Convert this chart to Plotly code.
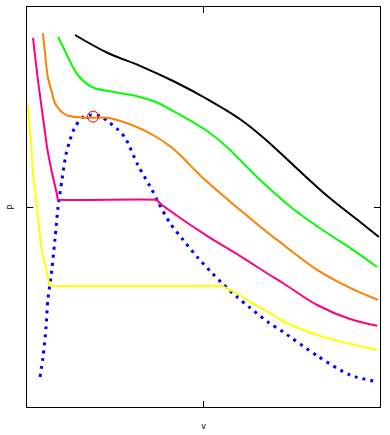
import plotly.graph_objects as go

# Isotherms (axis units 0..10 on both axes)
black_v = [1.36, 2.29, 3.20, 4.14, 5.10, 6.03, 6.74, 7.54, 8.50, 9.43, 9.97]
black_p = [9.30, 8.85, 8.53, 8.15, 7.70, 7.20, 6.70, 6.05, 5.28, 4.63, 4.25]

green_v = [0.88, 1.02, 1.16, 1.44, 1.84, 2.41, 3.06, 3.63, 4.14, 5.10, 5.66, 6.60, 7.54, 8.50, 9.15, 9.92]
green_p = [9.25, 9.00, 8.75, 8.30, 8.00, 7.88, 7.78, 7.63, 7.40, 6.90, 6.50, 5.68, 4.95, 4.35, 3.98, 3.50]

orange_v = [0.45, 0.51, 0.59, 0.71, 0.79, 0.88, 1.02, 1.16, 1.73, 2.29, 2.97, 3.57, 4.11, 5.04, 6.03, 6.83, 7.08, 8.22, 9.15, 9.94]
orange_p = [9.35, 8.85, 8.25, 7.85, 7.60, 7.48, 7.35, 7.28, 7.23, 7.23, 7.05, 6.80, 6.48, 5.68, 4.93, 4.35, 4.18, 3.43, 2.98, 2.68]

magenta_v = [0.17, 0.31, 0.45, 0.54, 0.57, 0.71, 0.84, 0.88, 0.93, 3.62, 3.68, 3.76, 4.14, 5.10, 6.03, 6.88, 7.25, 8.22, 9.15, 9.92]
magenta_p = [9.23, 8.18, 7.25, 6.68, 6.48, 5.85, 5.35, 5.19, 5.18, 5.18, 5.17, 5.10, 4.85, 4.28, 3.78, 3.30, 3.10, 2.55, 2.20, 2.03]

yellow_v = [0.00, 0.03, 0.08, 0.11, 0.17, 0.28, 0.42, 0.57, 0.62, 0.65, 0.70, 5.46, 5.52, 5.60, 6.03, 6.32, 6.83, 7.25, 8.22, 9.15, 9.92]
yellow_p = [7.55, 7.48, 6.98, 6.68, 5.85, 5.00, 3.93, 3.35, 3.12, 3.04, 3.03, 3.03, 3.03, 2.99, 2.80, 2.63, 2.38, 2.15, 1.80, 1.58, 1.43]

dome_v = [0.37, 0.45, 0.54, 0.59, 0.68, 0.79, 0.88, 0.99, 1.10, 1.22, 1.36, 1.59, 1.81, 2.07, 2.35,
          2.58, 2.78, 3.14, 3.54, 3.71, 4.05, 4.42, 4.84, 5.24, 5.52, 5.95, 6.32, 6.83, 7.25, 8.22, 9.15, 9.94]
dome_p = [0.75, 1.23, 2.00, 2.68, 3.25, 4.18, 5.00, 5.68, 6.30, 6.68, 7.00, 7.25, 7.30, 7.28, 7.10,
          6.93, 6.73, 6.05, 5.43, 5.13, 4.60, 4.18, 3.73, 3.35, 3.10, 2.75, 2.48, 2.12, 1.88, 1.28, 0.80, 0.63]

crit_v = [1.87]
crit_p = [7.26]

tick_v = [5]
tick_p = [5]

fig = go.Figure()
fig.add_trace(go.Scatter(x=dome_v, y=dome_p, mode="lines",
                         line=dict(color="#0000ff", width=3, dash="3px,5px", shape="spline", smoothing=0.8)))
for xs, ys, col in [(yellow_v, yellow_p, "#ffff00"),
                    (magenta_v, magenta_p, "#ff0080"),
                    (orange_v, orange_p, "#ff8000"),
                    (green_v, green_p, "#00ff00"),
                    (black_v, black_p, "#000000")]:
    fig.add_trace(go.Scatter(x=xs, y=ys, mode="lines",
                             line=dict(color=col, width=2, shape="spline", smoothing=1.0)))
fig.add_trace(go.Scatter(x=crit_v, y=crit_p, mode="markers",
                         marker=dict(symbol="circle-open", size=11, color="#ff0000", line=dict(width=1))))

axis_common = dict(showgrid=False, zeroline=False, showline=True, linecolor="black", linewidth=1,
                   mirror="ticks", ticks="inside", ticklen=6, tickcolor="black", tickwidth=1,
                   showticklabels=False, range=[0, 10], automargin=False)
fig.update_layout(
    width=390, height=435, showlegend=False,
    plot_bgcolor="white", paper_bgcolor="white",
    margin=dict(l=27, r=10, t=7, b=28),
    xaxis=dict(tickvals=tick_v, title=dict(text="v", font=dict(size=8, color="black", family="DejaVu Sans"), standoff=16), **axis_common),
    yaxis=dict(tickvals=tick_p, title=dict(text="P", font=dict(size=8, color="black", family="DejaVu Sans"), standoff=10), **axis_common),
)
fig.write_html("out.html", config={"displayModeBar": False},
               post_script="document.body.style.margin='0';")
